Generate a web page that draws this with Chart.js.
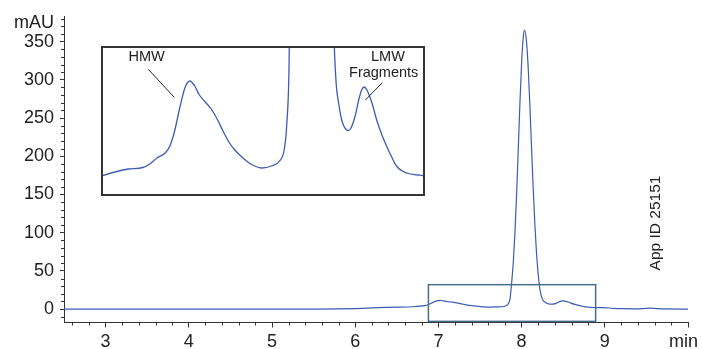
<!DOCTYPE html>
<html>
<head>
<meta charset="utf-8">
<script src="https://cdn.jsdelivr.net/npm/chart.js@4.4.1/dist/chart.umd.min.js"></script>
<style>
  html, body { margin: 0; padding: 0; background: #fff; }
  #wrap { position: relative; width: 702px; height: 349px; }
  #main { position: absolute; left: 0; top: 0; }
  #insetBox { position: absolute; left: 101px; top: 46px; width: 324px; height: 150px;
              border: 2px solid #333; box-sizing: border-box; background: #fff; }
  #inset { display: block; }
</style>
</head>
<body>
<div id="wrap">
  <canvas id="main" width="702" height="349"></canvas>
  <div id="insetBox"><canvas id="inset" width="320" height="146"></canvas></div>
</div>
<script>
// Chromatogram data: retention time in min, absorbance in mAU
const retentionTime = [
  2.5, 3.0, 4.0, 5.0, 5.5, 5.8, 6.0, 6.15, 6.272, 6.384, 6.497, 6.62, 6.68, 6.74, 6.81, 6.85,
  6.89, 6.935, 6.98, 7.02, 7.06, 7.1, 7.15, 7.2, 7.25, 7.3, 7.35, 7.4, 7.45, 7.5, 7.55, 7.63,
  7.71, 7.78, 7.82, 7.84, 7.86, 7.88, 7.9, 7.92, 7.94, 7.96, 7.98, 8.0, 8.02, 8.036, 8.06,
  8.08, 8.1, 8.12, 8.14, 8.16, 8.18, 8.2, 8.22, 8.24, 8.26, 8.28, 8.3, 8.32, 8.34, 8.36, 8.38,
  8.42, 8.45, 8.475, 8.497, 8.52, 8.545, 8.575, 8.6, 8.65, 8.69, 8.73, 8.77, 8.82, 8.87, 8.95,
  9.0, 9.1, 9.2, 9.35, 9.47, 9.55, 9.63, 9.75, 10.0
];
const absorbance = [
  0, 0, 0, 0, 0.1, 0.3, 0.7, 1.3, 1.9, 2.3, 2.6, 2.75, 3.1, 3.7, 4.2, 4.9,
  6.4, 8.8, 10.8, 11.4, 10.9, 10.0, 9.3, 8.6, 7.6, 6.4, 5.3, 4.5, 3.9, 3.4, 3.0, 2.7,
  2.9, 3.4, 4.6, 7.0, 13, 34, 61, 100, 150, 209, 270, 322, 356, 365, 349,
  314, 265, 210, 157, 110, 72, 45, 26, 16, 11, 9.2, 7.8, 7.0, 6.6, 6.45, 6.6,
  7.9, 9.5, 10.5, 10.8, 10.5, 9.8, 8.7, 7.6, 5.9, 4.8, 3.8, 2.9, 2.4, 2.15, 2.0,
  1.9, 1.1, 0.6, 0.4, 0.8, 1.3, 0.7, 0.2, 0.1
];
const xMajorTicks = [3, 4, 5, 6, 7, 8, 9, 10];
const yMajorTicks = [0, 50, 100, 150, 200, 250, 300, 350];
const xRange = [2.5, 10];
const yRange = [-17.5, 383.5];
// zoom rectangle on the main trace and the range shown in the inset
const zoomBoxTime = [6.88, 8.89];
const zoomBoxAbs = [-16, 32];
const insetTimeRange = [6.283, 8.995];
const insetAbsRange = [0.1, 14.7];

const lineColor = "#3c5cb4";
const textColor = "#222";
const fontFamily = "'Liberation Sans', Arial, Helvetica, sans-serif";

const trace = retentionTime.map((t, i) => ({ x: t, y: absorbance[i] }));

// minor ticks, zoom box and loose labels on the main chart
const mainDecor = {
  id: "mainDecor",
  afterDraw(chart) {
    const { ctx, scales: { x, y }, chartArea } = chart;
    ctx.save();
    ctx.strokeStyle = "#333";
    ctx.lineWidth = 1;
    ctx.beginPath();
    for (let k = 13; k <= 50; k++) {
      if (k % 5 === 0) continue;
      const px = Math.round(x.getPixelForValue(k / 5)) + 0.5;
      ctx.moveTo(px, chartArea.bottom);
      ctx.lineTo(px, chartArea.bottom + 3);
    }
    for (let k = -1; k <= 38; k++) {
      if (k % 5 === 0) continue;
      const py = Math.round(y.getPixelForValue(k * 10)) + 0.5;
      ctx.moveTo(chartArea.left, py);
      ctx.lineTo(chartArea.left - 3, py);
    }
    ctx.stroke();

    // zoom rectangle
    const bx0 = x.getPixelForValue(zoomBoxTime[0]);
    const bx1 = x.getPixelForValue(zoomBoxTime[1]);
    const by0 = y.getPixelForValue(zoomBoxAbs[1]);
    const by1 = y.getPixelForValue(zoomBoxAbs[0]);
    ctx.strokeStyle = "#44708c";
    ctx.lineWidth = 1.5;
    ctx.strokeRect(bx0, by0, bx1 - bx0, by1 - by0);

    // unit label
    ctx.fillStyle = textColor;
    ctx.font = "18px " + fontFamily;
    ctx.textAlign = "right";
    ctx.textBaseline = "alphabetic";
    ctx.fillText("mAU", 54, 27.5);

    // rotated id
    ctx.font = "15.5px " + fontFamily;
    ctx.translate(656, 223);
    ctx.rotate(-Math.PI / 2);
    ctx.textAlign = "center";
    ctx.textBaseline = "middle";
    ctx.fillText("App ID 25151", 0, 0);
    ctx.restore();
  }
};

new Chart(document.getElementById("main"), {
  type: "line",
  data: {
    datasets: [{
      data: trace,
      borderColor: lineColor,
      borderWidth: 1.2,
      pointRadius: 0,
      cubicInterpolationMode: "monotone",
      fill: false
    }]
  },
  options: {
    responsive: false,
    animation: false,
    events: [],
    layout: { padding: { top: 16, right: 14, left: 0, bottom: 0 } },
    plugins: { legend: { display: false }, tooltip: { enabled: false } },
    scales: {
      x: {
        type: "linear",
        min: xRange[0],
        max: xRange[1],
        afterBuildTicks: s => { s.ticks = xMajorTicks.map(v => ({ value: v })); },
        afterFit: s => { s.height = 26.5; s.paddingLeft = 0; s.paddingRight = 0; },
        grid: { display: true, drawOnChartArea: false, drawTicks: true, tickLength: 5, color: "#333" },
        border: { display: true, color: "#333", width: 1 },
        ticks: {
          color: textColor,
          padding: 4,
          maxRotation: 0,
          font: { size: 18, family: fontFamily },
          // unit sits at the last tick, nudged left like the original
          callback: v => (v === 10 ? "min\u2002" : v)
        }
      },
      y: {
        type: "linear",
        min: yRange[0],
        max: yRange[1],
        afterBuildTicks: s => { s.ticks = yMajorTicks.map(v => ({ value: v })); },
        afterFit: s => { s.width = 64; s.paddingTop = 0; s.paddingBottom = 0; },
        grid: { display: true, drawOnChartArea: false, drawTicks: true, tickLength: 4, color: "#333" },
        border: { display: true, color: "#333", width: 1 },
        ticks: {
          color: textColor,
          padding: 6,
          font: { size: 18, family: fontFamily }
        }
      }
    }
  },
  plugins: [mainDecor]
});

// peak annotations inside the inset (anchored in data coordinates)
const insetLabels = {
  id: "insetLabels",
  afterDraw(chart) {
    const { ctx, scales: { x, y } } = chart;
    const P = (t, v) => [x.getPixelForValue(t), y.getPixelForValue(v)];
    ctx.save();
    ctx.fillStyle = textColor;
    ctx.strokeStyle = textColor;
    ctx.lineWidth = 1;
    ctx.font = "14.5px " + fontFamily;
    ctx.textAlign = "center";
    ctx.textBaseline = "middle";
    let p = P(6.653, 13.8);
    ctx.fillText("HMW", p[0], p[1]);
    p = P(8.698, 13.8);
    ctx.fillText("LMW", p[0], p[1]);
    p = P(8.662, 12.2);
    ctx.fillText("Fragments", p[0], p[1]);
    ctx.beginPath();
    let a = P(6.667, 12.57), b = P(6.887, 9.77);
    ctx.moveTo(a[0], a[1]); ctx.lineTo(b[0], b[1]);
    a = P(8.65, 11.23); b = P(8.507, 9.5);
    ctx.moveTo(a[0], a[1]); ctx.lineTo(b[0], b[1]);
    ctx.stroke();
    ctx.restore();
  }
};

new Chart(document.getElementById("inset"), {
  type: "line",
  data: {
    datasets: [{
      data: trace,
      borderColor: lineColor,
      borderWidth: 1.3,
      pointRadius: 0,
      cubicInterpolationMode: "monotone",
      fill: false
    }]
  },
  options: {
    responsive: false,
    animation: false,
    events: [],
    layout: { padding: 0 },
    plugins: { legend: { display: false }, tooltip: { enabled: false } },
    scales: {
      x: { type: "linear", display: false, min: insetTimeRange[0], max: insetTimeRange[1] },
      y: { type: "linear", display: false, min: insetAbsRange[0], max: insetAbsRange[1] }
    }
  },
  plugins: [insetLabels]
});
</script>
</body>
</html>
